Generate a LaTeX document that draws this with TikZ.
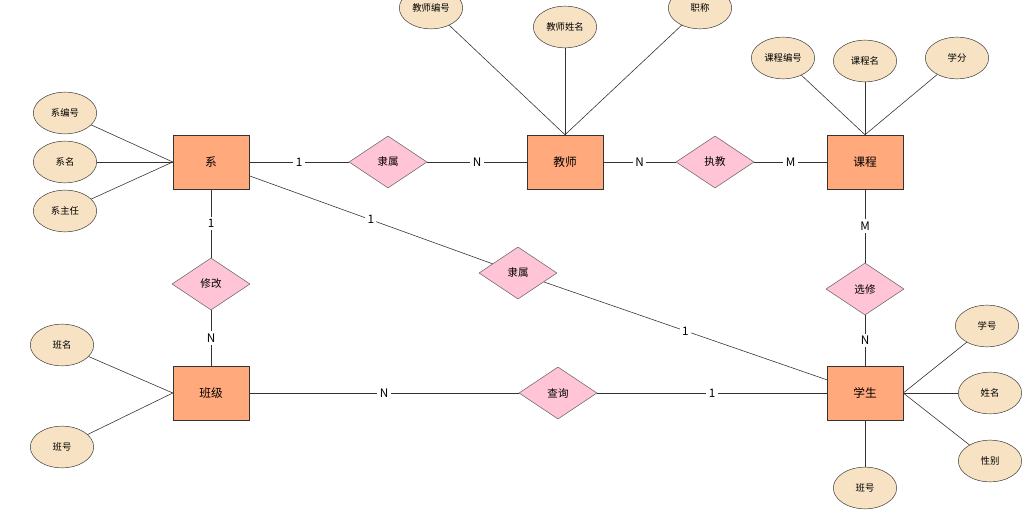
\documentclass[tikz,border=0pt]{standalone}
\usepackage{fontspec}
\setmainfont{Noto Sans CJK SC}
\usetikzlibrary{shapes.geometric}
\definecolor{entfill}{HTML}{FFA97C}
\definecolor{relfill}{HTML}{FFC4D6}
\definecolor{attfill}{HTML}{F7E3C4}
\definecolor{lncol}{HTML}{333333}
\begin{document}
\begin{tikzpicture}[x=0.03cm, y=-0.03cm]
  \tikzset{
    entity/.style={draw=lncol, fill=entfill, minimum width=2.28cm, minimum height=1.62cm, font=\fontsize{10}{12}\selectfont},
    rel/.style={draw=lncol!80, fill=relfill, diamond, aspect=1.5, minimum width=2.34cm, minimum height=1.56cm, inner sep=0pt, font=\fontsize{9}{11}\selectfont},
    attr/.style={draw=lncol, fill=attfill, ellipse, minimum width=1.9cm, minimum height=1.25cm, inner sep=0pt, font=\fontsize{8}{10}\selectfont},
    lbl/.style={fill=white, inner sep=2pt, font=\fontsize{10}{12}\selectfont},
    conn/.style={draw=lncol, line width=0.5pt}
  }
  \useasboundingbox[fill=white] (0,0) rectangle (1035,515);

  % 实体
  \node[entity] (xi) at (211,162) {系};
  \node[entity] (js) at (565,162) {教师};
  \node[entity] (kc) at (865,162) {课程};
  \node[entity] (bj) at (211,393) {班级};
  \node[entity] (xs) at (865,393) {学生};

  % 联系
  \node[rel] (ls1) at (388,162) {隶属};
  \node[rel] (zj) at (715,162) {执教};
  \node[rel] (xg) at (211,284) {修改};
  \node[rel] (ls2) at (518,273) {隶属};
  \node[rel] (xx) at (865,289) {选修};
  \node[rel] (cx) at (558,393) {查询};

  % 属性
  \node[attr] (xbh) at (65,113) {系编号};
  \node[attr] (xm) at (65,162) {系名};
  \node[attr] (xzr) at (65,211) {系主任};
  \node[attr] (jsbh) at (431,8) {教师编号};
  \node[attr] (jsxm) at (565,27) {教师姓名};
  \node[attr] (zc) at (700,8) {职称};
  \node[attr] (kcbh) at (783,58) {课程编号};
  \node[attr] (kcm) at (865,61) {课程名};
  \node[attr] (xf) at (957,58) {学分};
  \node[attr] (bm) at (62,345) {班名};
  \node[attr] (bh) at (62,447) {班号};
  \node[attr] (xh) at (987,326) {学号};
  \node[attr] (xsm) at (990,393) {姓名};
  \node[attr] (xb) at (990,461) {性别};
  \node[attr] (xsbh) at (865,488) {班号};

  % 属性连线
  \foreach \a in {xbh,xm,xzr} \draw[conn] (\a) -- (xi.west);
  \foreach \a in {jsbh,jsxm,zc} \draw[conn] (\a) -- (js.north);
  \foreach \a in {kcbh,kcm,xf} \draw[conn] (\a) -- (kc.north);
  \foreach \a in {bm,bh} \draw[conn] (\a) -- (bj.west);
  \foreach \a in {xh,xsm,xb} \draw[conn] (\a) -- (xs.east);
  \draw[conn] (xsbh) -- (xs.south);

  % 联系连线
  \draw[conn] (xi) -- node[lbl] {1} (ls1) -- node[lbl] {N} (js);
  \draw[conn] (js) -- node[lbl] {N} (zj) -- node[lbl] {M} (kc);
  \draw[conn] (xi) -- node[lbl] {1} (xg) -- node[lbl] {N} (bj);
  \draw[conn] (xi) -- node[lbl] {1} (ls2) -- node[lbl] {1} (xs);
  \draw[conn] (kc) -- node[lbl] {M} (xx) -- node[lbl] {N} (xs);
  \draw[conn] (bj) -- node[lbl] {N} (cx) -- node[lbl] {1} (xs);
\end{tikzpicture}
\end{document}
